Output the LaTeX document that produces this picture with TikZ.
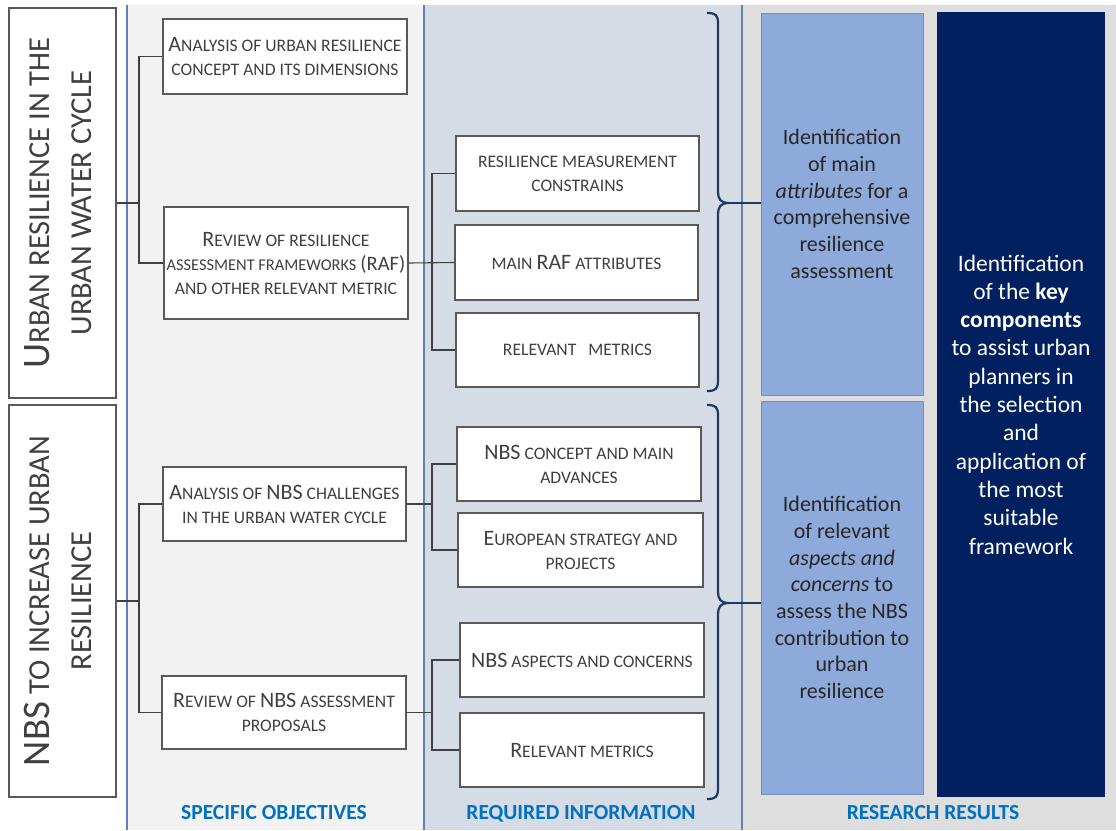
\documentclass[tikz,border=0pt]{standalone}
\usepackage{fontspec}
\setmainfont{Carlito}
\definecolor{boxgray}{HTML}{595959}
\definecolor{textgray}{HTML}{404040}
\definecolor{colA}{HTML}{F2F2F2}
\definecolor{colB}{HTML}{D6DCE5}
\definecolor{colC}{HTML}{DEDEDE}
\definecolor{sepblue}{HTML}{5B7FBF}
\definecolor{lightblue}{HTML}{8EAADB}
\definecolor{lightblueedge}{HTML}{6F8DC6}
\definecolor{navy}{HTML}{002060}
\definecolor{bracecol}{HTML}{1F3864}
\definecolor{headblue}{HTML}{0070C0}
\newcommand\Bg[1]{{\fontsize{22}{24}\selectfont #1}}
\newcommand\Lg[1]{{\fontsize{39}{42}\selectfont #1}}
\tikzset{
  obox/.style={draw=boxgray, line width=1.2pt, fill=white, text=textgray, align=center,
    font=\fontsize{17.6}{24}\selectfont, inner sep=0pt},
  lbox/.style={draw=boxgray, line width=1.2pt, fill=white, text=textgray, align=center,
    font=\fontsize{30.5}{42}\selectfont, inner sep=0pt},
  sbox/.style={draw=lightblueedge, line width=1pt, fill=lightblue, text=black!85, align=center,
    font=\fontsize{22}{26.7}\selectfont, inner sep=0pt},
  nbox/.style={fill=navy, text=white, align=center, font=\fontsize{23.5}{28.3}\selectfont, inner sep=0pt},
  heading/.style={text=headblue, font=\bfseries\fontsize{21.5}{22}\selectfont},
  conn/.style={draw=textgray, line width=1.1pt},
  bracestyle/.style={draw=bracecol, line width=2.2pt},
}
\begin{document}
\begin{tikzpicture}[x=1pt,y=-1pt]
\useasboundingbox (0,0) rectangle (1116,830);
% backgrounds
\fill[white] (0,0) rectangle (1116,830);
\fill[colA] (127,5) rectangle (424,830);
\fill[colB] (424,5) rectangle (742,830);
\fill[colC] (742,5) rectangle (1116,830);
\draw[sepblue, line width=1.3pt] (127,5) -- (127,830);
\draw[sepblue, line width=1.3pt] (424,5) -- (424,830);
\draw[sepblue!70!gray, line width=1.3pt] (742,5) -- (742,830);

% left column
\node[lbox, minimum width=107, minimum height=390] (L1) at (62.5,203)
  {\rotatebox{90}{\begin{tabular}{@{}c@{}}\Lg{U}RBAN RESILIENCE IN THE\\[0pt]URBAN WATER CYCLE\end{tabular}}};
\node[lbox, minimum width=107, minimum height=392] (L2) at (62.5,601)
  {\rotatebox{90}{\begin{tabular}{@{}c@{}}\Lg{NBS} TO INCREASE URBAN\\[0pt]RESILIENCE\end{tabular}}};

% specific objectives
\node[obox, minimum width=244, minimum height=75] (O1) at (285,56.5)
  {\Bg{A}NALYSIS OF URBAN RESILIENCE\\CONCEPT AND ITS DIMENSIONS};
\node[obox, minimum width=244, minimum height=112] (O2) at (286,263)
  {\Bg{R}EVIEW OF RESILIENCE\\\makebox[236pt][c]{{\fontsize{16.4}{24}\selectfont ASSESSMENT FRAMEWORKS} {\fontsize{20.5}{24}\selectfont (RAF)}}\\AND OTHER RELEVANT METRIC};
\node[obox, minimum width=243, minimum height=74] (O3) at (284.5,504)
  {\Bg{A}NALYSIS OF \Bg{NBS} CHALLENGES\\IN THE URBAN WATER CYCLE};
\node[obox, minimum width=244, minimum height=73] (O4) at (284,712.5)
  {\Bg{R}EVIEW OF \Bg{NBS} ASSESSMENT\\PROPOSALS};

% required information
\node[obox, minimum width=243, minimum height=75] (R1) at (577.5,173.5)
  {RESILIENCE MEASUREMENT\\CONSTRAINS};
\node[obox, minimum width=243, minimum height=75] (R2) at (576.5,262.5)
  {MAIN \Bg{RAF} ATTRIBUTES};
\node[obox, minimum width=243, minimum height=74] (R3) at (577.5,350)
  {RELEVANT\ \ \ METRICS};
\node[obox, minimum width=244, minimum height=74] (R4) at (579,464)
  {\Bg{NBS} CONCEPT AND MAIN\\ADVANCES};
\node[obox, minimum width=245, minimum height=74] (R5) at (580.5,550)
  {\Bg{E}UROPEAN STRATEGY AND\\PROJECTS};
\node[obox, minimum width=244, minimum height=74] (R6) at (582,660)
  {\Bg{NBS} ASPECTS AND CONCERNS};
\node[obox, minimum width=244, minimum height=74] (R7) at (582,750)
  {\Bg{R}ELEVANT METRICS};

% research results
\node[sbox, minimum width=162, minimum height=382] (S1) at (842,204)
  {Identification\\of main\\\textit{attributes} for a\\comprehensive\\resilience\\assessment};
\node[sbox, minimum width=162, minimum height=393] (S2) at (842,597.5)
  {Identification\\of relevant\\\textit{aspects and}\\\textit{concerns} to\\assess the NBS\\contribution to\\urban\\resilience};
\node[nbox, minimum width=168, minimum height=785] (N) at (1021,404.5)
  {Identification\\of the \textbf{key}\\\textbf{components}\\to assist urban\\planners in\\the selection\\and\\application of\\the most\\suitable\\framework};

% headings
\node[heading] (H1) at (274,813) {SPECIFIC OBJECTIVES};
\node[heading] (H2) at (581,814) {REQUIRED INFORMATION};
\node[heading] (H3) at (933,813) {RESEARCH RESULTS};

% connectors
\coordinate (j1) at (139,0);
\coordinate (j2) at (432,0);
\draw[conn] (L1.east) -- (L1.east -| j1);
\draw[conn] (O1.west) -- (O1.west -| j1) -- (O2.west -| j1) -- (O2.west);
\draw[conn] (L2.east) -- (L2.east -| j1);
\draw[conn] (O3.west) -- (O3.west -| j1) -- (O4.west -| j1) -- (O4.west);
\draw[conn] (O2.east) -- (R2.west);
\draw[conn] (R1.west) -- (R1.west -| j2) -- (R3.west -| j2) -- (R3.west);
\draw[conn] (O3.east) -- (O3.east -| j2);
\draw[conn] (R4.west) -- (R4.west -| j2) -- (R5.west -| j2) -- (R5.west);
\draw[conn] (O4.east) -- (O4.east -| j2);
\draw[conn] (R6.west) -- (R6.west -| j2) -- (R7.west -| j2) -- (R7.west);

% braces
\coordinate (t1) at (728,203);
\coordinate (t2) at (728,603);
\draw[bracestyle] (707,13) .. controls (716,13) and (718,15) .. (718,24) -- (718,192)
  .. controls (718,199) and (721,203) .. (t1)
  .. controls (721,203) and (718,207) .. (718,214) -- (718,380)
  .. controls (718,389) and (716,391) .. (707,391);
\draw[bracestyle] (707,405) .. controls (716,405) and (718,407) .. (718,416) -- (718,592)
  .. controls (718,599) and (721,603) .. (t2)
  .. controls (721,603) and (718,607) .. (718,614) -- (718,788)
  .. controls (718,797) and (716,799) .. (707,799);
\draw[draw=bracecol, line width=1.5pt] (t1) -- (S1.west |- t1);
\draw[draw=bracecol, line width=1.5pt] (t2) -- (S2.west |- t2);
\end{tikzpicture}
\end{document}
